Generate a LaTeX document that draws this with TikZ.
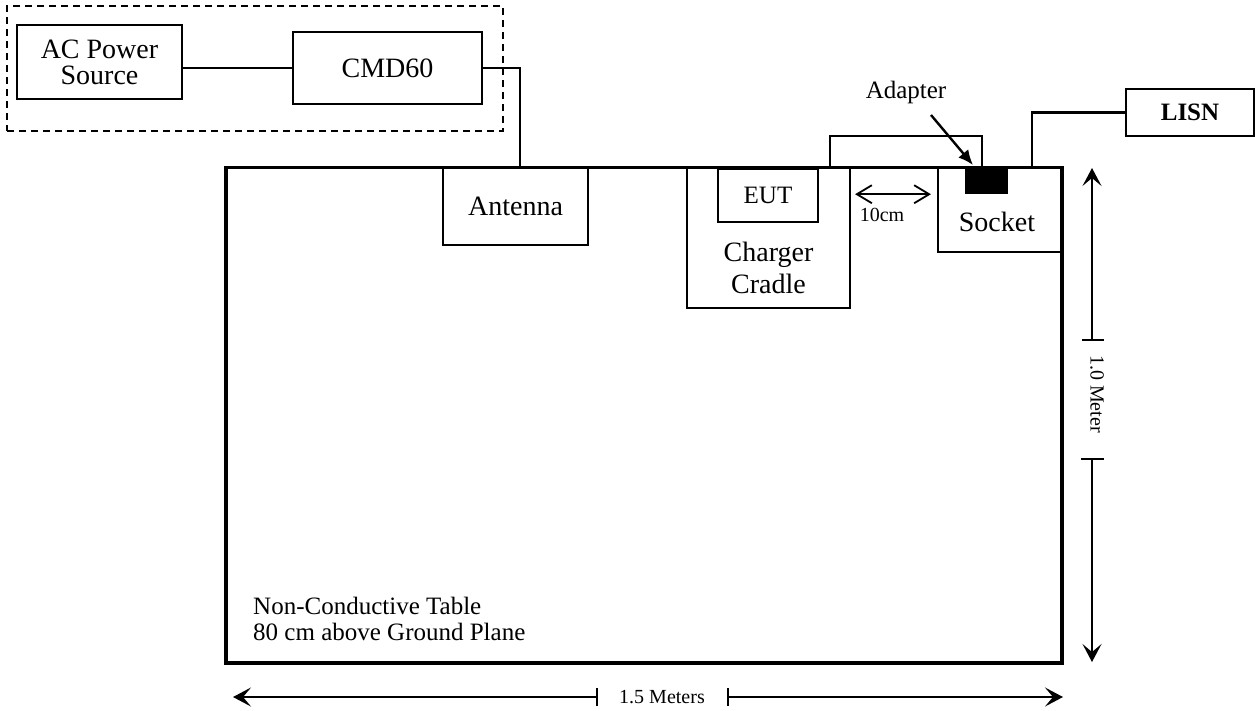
\documentclass[tikz,border=0pt]{standalone}
\usepackage{fontspec}
\setmainfont{Liberation Serif}
\usetikzlibrary{arrows.meta,calc}
\begin{document}
\begin{tikzpicture}[x=1pt,y=-1pt,
  box/.style={draw, line width=2.2pt, inner sep=0pt, align=center, font=\fontsize{28}{26}\selectfont},
  wire/.style={line width=2.4pt},
  dim/.style={line width=1.5pt},
  bigtxt/.style={font=\fontsize{28}{32}\selectfont, inner sep=0pt, align=center},
  midtxt/.style={font=\fontsize{25}{28}\selectfont, inner sep=0pt},
  smalltxt/.style={font=\fontsize{20}{24}\selectfont, inner sep=0pt},
  dimtip/.tip={Stealth[length=18pt,width=19pt,inset=8pt]},
  barb/.tip={Straight Barb[length=15pt,width=18pt,line width=1.8pt]}]
\useasboundingbox (0,0) rectangle (1255,710);

% group of AC source and CMD60
\node[draw, dash pattern=on 7pt off 5pt, line width=1.8pt, minimum width=496pt, minimum height=125pt, inner sep=0pt] (grp) at (255,68.5) {};
\node[box, minimum width=165pt, minimum height=74pt] (ac) at (99.5,62) {AC Power\\Source};
\node[box, minimum width=189pt, minimum height=72pt] (cmd) at (387.5,68) {CMD60};

% table
\node[draw, line width=3.6pt, minimum width=836pt, minimum height=495.5pt, inner sep=0pt] (table) at (644,415.25) {};

% items on the table
\node[box, minimum width=145pt, minimum height=78pt] (ant) at (515.5,206) {Antenna};
\node[box, minimum width=163pt, minimum height=141pt] (cradle) at (768.5,237.5) {};
\node[bigtxt] (cradletext) at (768.5,268) {Charger\\Cradle};
\node[box, minimum width=100pt, minimum height=53pt, font=\fontsize{25}{28}\selectfont] (eut) at (768,195.5) {EUT};
\node[box, minimum width=124pt, minimum height=85pt] (socket) at (1000,209.5) {};
\node[bigtxt] (sockettext) at (997,222) {Socket};
\node[fill=black, minimum width=43pt, minimum height=27pt, inner sep=0pt] (adapter) at (986.5,180.5) {};
\node[box, minimum width=128pt, minimum height=47pt, font=\fontsize{25}{28}\selectfont\bfseries] (lisn) at (1190,112.5) {LISN};

\node[anchor=base west, midtxt] (tt1) at (253,614) {Non-Conductive Table};
\node[anchor=base west, midtxt] (tt2) at (253,640) {80 cm above Ground Plane};

% wires
\draw[wire] (ac.east |- cmd.west) -- (cmd.west);
\coordinate (antDrop) at (520,167);
\draw[wire] (cmd.east) -| (antDrop);
\coordinate (cabA) at (830,167);
\coordinate (cabB) at (982,167);
\draw[wire] (cabA) -- ++(0,-31) -| (cabB);
\coordinate (lisnDrop) at (1032,167);
\draw[wire] (lisn.west) -| (lisnDrop);

% adapter label
\node[midtxt] (adlabel) at (906,92) {Adapter};
\coordinate (adA) at (931,115);
\coordinate (adB) at (973,165);
\draw[wire, -{Latex[length=15pt,width=13pt]}] (adA) -- (adB);

% 10 cm distance
\draw[dim, barb-barb, shorten <=4pt, shorten >=6pt] (cradle.east |- adapter.south) -- (socket.west |- adapter.south);
\node[smalltxt] (tencm) at (882,215) {10cm};

% vertical dimension
\coordinate (vTop) at (1092,168);
\coordinate (vT1) at (1092,340);
\coordinate (vT2) at (1092,459);
\coordinate (vBot) at (1092,662);
\draw[dim, -dimtip] (vT1) -- (vTop);
\draw[dim, -dimtip] (vT2) -- (vBot);
\draw[dim] ($(vT1)+(-10,0)$) -- ($(vT1)+(12,0)$);
\draw[dim] ($(vT2)+(-11,0)$) -- ($(vT2)+(12,0)$);
\node[smalltxt, rotate=-90] (vlabel) at (1097,394) {1.0 Meter};

% horizontal dimension
\coordinate (hL) at (233,697);
\coordinate (hT1) at (597,697);
\coordinate (hT2) at (728,697);
\coordinate (hR) at (1063,697);
\draw[dim, -dimtip] (hT1) -- (hL);
\draw[dim, -dimtip] (hT2) -- (hR);
\draw[dim] ($(hT1)+(0,-9)$) -- ($(hT1)+(0,9)$);
\draw[dim] ($(hT2)+(0,-9)$) -- ($(hT2)+(0,9)$);
\node[smalltxt] (hlabel) at (662,697) {1.5 Meters};
\end{tikzpicture}
\end{document}
